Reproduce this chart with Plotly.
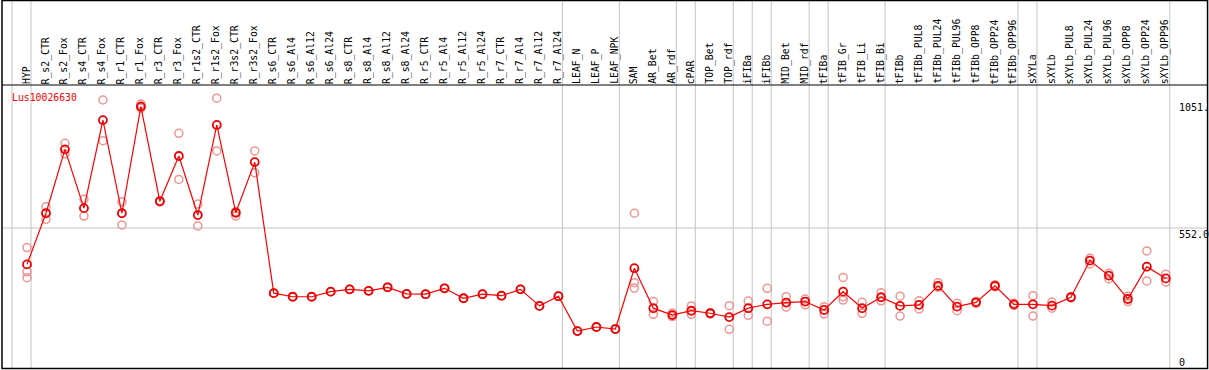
import plotly.graph_objects as go

categories = ["HYP", "R_s2_CTR", "R_s2_Fox", "R_s4_CTR", "R_s4_Fox", "R_r1_CTR", "R_r1_Fox",
              "R_r3_CTR", "R_r3_Fox", "R_r1s2_CTR", "R_r1s2_Fox", "R_r3s2_CTR", "R_r3s2_Fox",
              "R_s6_CTR", "R_s6_Al4", "R_s6_Al12", "R_s6_Al24", "R_s8_CTR", "R_s8_Al4",
              "R_s8_Al12", "R_s8_Al24", "R_r5_CTR", "R_r5_Al4", "R_r5_Al12", "R_r5_Al24",
              "R_r7_CTR", "R_r7_Al4", "R_r7_Al12", "R_r7_Al24", "LEAF_N", "LEAF_P", "LEAF_NPK",
              "SAM", "AR_Bet", "AR_rdf", "cPAR", "TOP_Bet", "TOP_rdf", "iFIBa", "iFIBb",
              "MID_Bet", "MID_rdf", "tFIBa", "tFIB_Gr", "tFIB_Li", "tFIB_Bi", "tFIBb",
              "tFIBb_PUL8", "tFIBb_PUL24", "tFIBb_PUL96", "tFIBb_OPP8", "tFIBb_OPP24",
              "tFIBb_OPP96", "sXYLa", "sXYLb", "sXYLb_PUL8", "sXYLb_PUL24", "sXYLb_PUL96",
              "sXYLb_OPP8", "sXYLb_OPP24", "sXYLb_OPP96"]

mean_values = [409, 610, 861, 630, 976, 610, 1029, 657, 835, 603, 957, 612, 811,
               296, 282, 282, 302, 311, 305, 319, 293, 292, 315, 276, 292, 286, 311, 246, 284,
               147, 163, 155, 394, 237, 210, 227, 217, 202, 237, 252, 259, 263, 230,
               302, 237, 280, 246, 250, 325, 243, 260, 325, 252, 252, 247, 280, 424, 365,
               273, 400, 354]

rep_a = [475, 636, 885, 665, 1055, 655, 1039, 659, 924, 646, 1062, 616, 855,
         296, 282, 282, 302, 311, 305, 319, 293, 292, 315, 276, 292, 286, 311, 246, 284,
         147, 163, 155, 610, 263, 204, 246, 214, 247, 265, 315, 282, 273, 243,
         358, 260, 298, 284, 266, 337, 256, 263, 329, 256, 286, 261, 282, 433, 374,
         284, 462, 370]
rep_b = [380, 586, 843, 599, 895, 564, 1031, 655, 743, 560, 855, 599, 769,
         296, 282, 282, 302, 311, 305, 319, 293, 292, 315, 276, 292, 286, 311, 246, 284,
         147, 163, 155, 337, 213, 218, 213, 219, 154, 209, 186, 241, 250, 214,
         282, 217, 266, 206, 234, 319, 227, 256, 321, 248, 206, 237, 277, 411, 353,
         263, 344, 339]
rep_c = [357, None, None, None, None, None, 1023, None, None, None, None, None, None,
         None, None, None, None, None, None, None, None, None, None, None, None, None, None, None, None,
         None, None, None, 316, None, None, None, None, None, None, None, None, None, None,
         269, None, None, None, None, None, None, None, None, None, None, None, None, None, None,
         None, None, None]

group_ends = [-1, 0, 28, 31, 34, 35, 37, 38, 39, 41, 42, 45, 52, 53, 60]
axis_marks = [1051, 552, 0]
axis_mark_text = ["1051.", "552.0", "0"]
gene_name = "Lus10026630"

# layout geometry (index units / value units)
X0, X1 = -1.4226, 62.276
Y0, Y1 = -5.9, 1447.9
HEADER_Y = 1114
FRAME_L, FRAME_R = -1.317, 62.2
FRAME_T = 1446

xs = list(range(len(categories)))

fig = go.Figure()

rep_x, rep_y = [], []
for reps in (rep_a, rep_b, rep_c):
    for i, v in enumerate(reps):
        if v is not None:
            rep_x.append(i)
            rep_y.append(v)

fig.add_trace(go.Scatter(
    x=rep_x, y=rep_y, mode="markers",
    marker=dict(symbol="circle-open", size=8, color="rgba(235,130,130,0.85)",
                line=dict(width=1.5, color="rgba(235,130,130,0.85)")),
    hoverinfo="skip", showlegend=False))

fig.add_trace(go.Scatter(
    x=xs, y=mean_values, mode="lines+markers",
    line=dict(color="#ff0000", width=1.2),
    marker=dict(symbol="circle-open", size=8, color="#ee0000",
                line=dict(width=1.8, color="#ee0000")),
    text=categories, showlegend=False))

shapes = []
for g in group_ends:
    shapes.append(dict(type="line", x0=g + 0.21, x1=g + 0.21, y0=0, y1=FRAME_T,
                       line=dict(color="#c4c4c4", width=1), layer="below"))
shapes.append(dict(type="line", x0=FRAME_L, x1=FRAME_R, y0=552, y1=552,
                   line=dict(color="#c4c4c4", width=1), layer="below"))
shapes.append(dict(type="line", x0=FRAME_L, x1=FRAME_R, y0=HEADER_Y, y1=HEADER_Y,
                   line=dict(color="black", width=1.2)))
shapes.append(dict(type="rect", x0=FRAME_L, x1=FRAME_R, y0=0, y1=FRAME_T,
                   line=dict(color="black", width=1.5)))

annotations = []
mono = "DejaVu Sans Mono"
for i, name in enumerate(categories):
    annotations.append(dict(x=i, y=HEADER_Y, text=name, textangle=-90, showarrow=False,
                            xanchor="center", yanchor="bottom", borderpad=0,
                            font=dict(family=mono, size=9.8, color="black")))
for v, t in zip(axis_marks, axis_mark_text):
    annotations.append(dict(x=60.66, y=v, text=t, showarrow=False, xanchor="left",
                            yanchor="top" if v > 0 else "bottom", borderpad=0,
                            font=dict(family=mono, size=10, color="black")))
annotations.append(dict(x=-0.9, y=1064, text=gene_name, showarrow=False, xanchor="left",
                        yanchor="middle", font=dict(family=mono, size=9.8, color="#ff0000")))

fig.update_layout(
    width=1209, height=370,
    margin=dict(l=0, r=0, t=0, b=0, pad=0),
    paper_bgcolor="white", plot_bgcolor="white",
    xaxis=dict(range=[X0, X1], visible=False, fixedrange=True),
    yaxis=dict(range=[Y0, Y1], visible=False, fixedrange=True),
    shapes=shapes, annotations=annotations,
)

fig.write_html("out.html", config={"displayModeBar": False},
               post_script="document.body.style.margin='0';document.body.style.overflow='hidden';")
